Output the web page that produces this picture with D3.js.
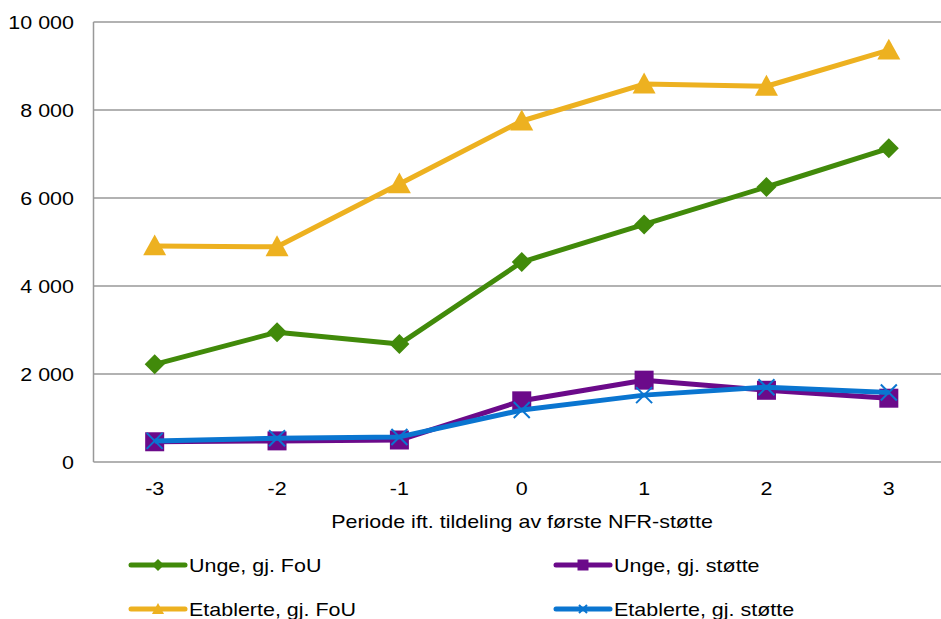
<!DOCTYPE html>
<html><head><meta charset="utf-8">
<script src="https://cdn.jsdelivr.net/npm/d3@7"></script>
<style>body{margin:0;background:#fff}svg{display:block;font-family:"Liberation Sans",Arial,sans-serif}</style>
</head><body><svg id="c" width="941" height="619"></svg>
<script>
const categories = ["-3","-2","-1","0","1","2","3"];
const ungeFoU = [2220, 2950, 2680, 4545, 5400, 6250, 7130];
const ungeStotte = [460, 480, 500, 1390, 1860, 1630, 1450];
const etablerteFoU = [4910, 4890, 6320, 7750, 8590, 8540, 9360];
const etablerteStotte = [480, 540, 570, 1180, 1520, 1700, 1580];
const yTicks = [0, 2000, 4000, 6000, 8000, 10000];
const xTitle = "Periode ift. tildeling av første NFR-støtte";

const series = [
  {name:"Unge, gj. FoU", values:ungeFoU, color:"#418A0A", marker:"diamond"},
  {name:"Unge, gj. støtte", values:ungeStotte, color:"#6B0A8A", marker:"square"},
  {name:"Etablerte, gj. FoU", values:etablerteFoU, color:"#EDB120", marker:"triangle"},
  {name:"Etablerte, gj. støtte", values:etablerteStotte, color:"#0A75D0", marker:"x"}
];

const svg = d3.select("#c");
const pLeft = 93.5, pRight = 950, pTop = 22, pBottom = 462;
const FS = 19, SX = 1.13;
const x = d3.scaleBand().domain(categories).range([pLeft, pRight]);
const y = d3.scaleLinear().domain([0, 10000]).range([pBottom, pTop]);
const fmt = v => d3.format(",")(v).replace(/,/g, " ");

svg.append("g").selectAll("line").data(yTicks).join("line")
  .attr("x1", pLeft).attr("x2", 941).attr("y1", d => y(d)).attr("y2", d => y(d))
  .attr("stroke", "#999").attr("stroke-width", 1.5);
svg.append("line").attr("x1", pLeft).attr("x2", pLeft).attr("y1", pTop).attr("y2", pBottom)
  .attr("stroke", "#999").attr("stroke-width", 1.5);

const yAxis = d3.axisLeft(y).tickValues(yTicks).tickFormat(fmt).tickSize(0).tickPadding(17.3);
const yg = svg.append("g").attr("transform", `translate(${pLeft},0)`).call(yAxis);
yg.select(".domain").remove();
yg.selectAll("text").attr("font-size", FS).attr("fill", "#000")
  .attr("font-family", "Liberation Sans, Arial, sans-serif").attr("transform", `scale(${SX},1)`);

const xAxis = d3.axisBottom(x).tickSize(0).tickPadding(20);
const xg = svg.append("g").attr("transform", `translate(0,${pBottom})`).call(xAxis);
xg.select(".domain").remove();
xg.selectAll("text").attr("font-size", FS).attr("fill", "#000")
  .attr("font-family", "Liberation Sans, Arial, sans-serif").attr("transform", `scale(${SX},1)`);

svg.append("g").attr("transform", `translate(522,528) scale(${SX},1)`)
  .append("text").attr("text-anchor", "middle").attr("font-size", FS).text(xTitle);

const cx = i => x(categories[i]) + x.bandwidth() / 2;
const line = d3.line().x((d, i) => cx(i)).y(d => y(d));

function diamondPath(r) { return `M0,${-r}L${r},0L0,${r}L${-r},0Z`; }
function drawMarker(g, type, color, size) {
  if (type === "diamond") {
    g.append("path").attr("d", diamondPath(size / 2)).attr("fill", color);
  } else if (type === "square") {
    g.append("rect").attr("x", -size / 2).attr("y", -size / 2).attr("width", size).attr("height", size).attr("fill", color);
  } else if (type === "triangle") {
    const s = size * 1.1;
    g.append("path").attr("d", `M0,${-s * 0.55}L${s * 0.55},${s * 0.45}L${-s * 0.55},${s * 0.45}Z`).attr("fill", color);
  } else if (type === "x") {
    const s = size / 2;
    g.append("path").attr("d", `M${-s},${-s}L${s},${s}M${-s},${s}L${s},${-s}`).attr("stroke", color).attr("stroke-width", 2).attr("fill", "none");
  }
}

const msize = {diamond: 20, square: 19, triangle: 19, x: 16};
series.forEach(s => {
  const g = svg.append("g");
  g.append("path").datum(s.values).attr("d", line).attr("fill", "none")
    .attr("stroke", s.color).attr("stroke-width", 5).attr("stroke-linejoin", "round");
  s.values.forEach((v, i) => {
    const mg = g.append("g").attr("transform", `translate(${cx(i)},${y(v)})`);
    drawMarker(mg, s.marker, s.color, msize[s.marker]);
  });
});

const lsize = {diamond: 12, square: 11, triangle: 10, x: 8};
const legendPos = [[131, 565], [556, 565], [131, 609], [556, 609]];
series.forEach((s, i) => {
  const [lx, ly] = legendPos[i];
  const g = svg.append("g").attr("transform", `translate(${lx},${ly})`);
  g.append("line").attr("x1", 0).attr("x2", 54).attr("y1", 0).attr("y2", 0)
    .attr("stroke", s.color).attr("stroke-width", 5).attr("stroke-linecap", "round");
  const mg = g.append("g").attr("transform", "translate(27,0)");
  drawMarker(mg, s.marker, s.color, lsize[s.marker]);
  g.append("g").attr("transform", `translate(58,0) scale(${SX},1)`)
    .append("text").attr("dy", "0.35em").attr("font-size", FS).text(s.name);
});
</script></body></html>
